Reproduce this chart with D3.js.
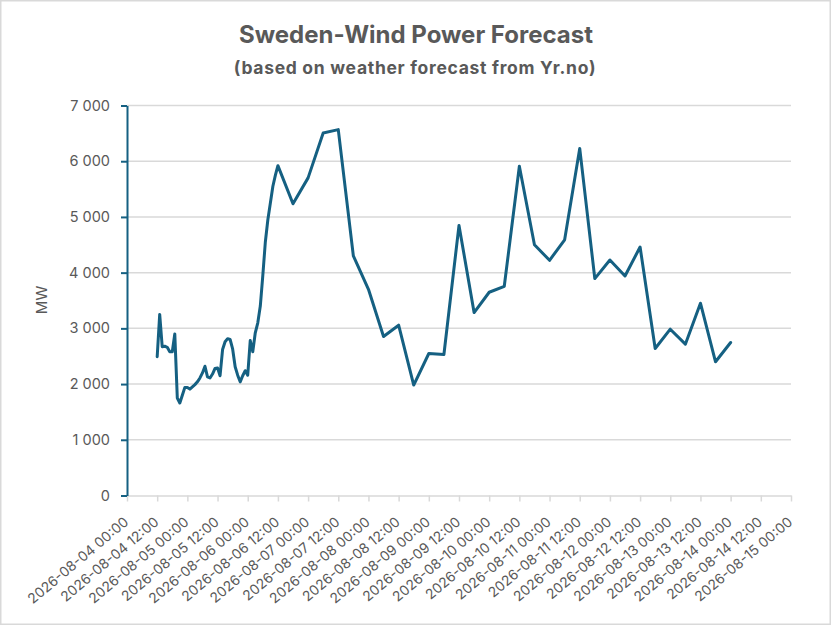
<!DOCTYPE html>
<html>
<head>
<meta charset="utf-8">
<script src="https://cdn.jsdelivr.net/npm/d3@7"></script>
<style>
  html, body { margin: 0; padding: 0; background: #fff; }
  svg { display: block; }
  text { font-family: Inter, "Liberation Sans", sans-serif; fill: #595959; }
</style>
</head>
<body>
<svg id="chart" width="832" height="626"></svg>
<script>
// ---- data ----
const chartTitle = "Sweden-Wind Power Forecast";
const chartSubtitle = "(based on weather forecast from Yr.no)";
const yAxisTitle = "MW";

const times = [
  "2026-08-04 12:00","2026-08-04 13:00","2026-08-04 14:00","2026-08-04 15:00","2026-08-04 16:00",
  "2026-08-04 17:00","2026-08-04 18:00","2026-08-04 19:00","2026-08-04 20:00","2026-08-04 21:00",
  "2026-08-04 22:00","2026-08-04 23:00","2026-08-05 00:00","2026-08-05 01:00","2026-08-05 02:00",
  "2026-08-05 03:00","2026-08-05 04:00","2026-08-05 05:00","2026-08-05 06:00","2026-08-05 07:00",
  "2026-08-05 08:00","2026-08-05 09:00","2026-08-05 10:00","2026-08-05 11:00","2026-08-05 12:00",
  "2026-08-05 13:00","2026-08-05 14:00","2026-08-05 15:00","2026-08-05 16:00","2026-08-05 17:00",
  "2026-08-05 18:00","2026-08-05 19:00","2026-08-05 20:00","2026-08-05 21:00","2026-08-05 22:00",
  "2026-08-05 23:00","2026-08-06 00:00","2026-08-06 01:00","2026-08-06 02:00","2026-08-06 03:00",
  "2026-08-06 04:00","2026-08-06 05:00","2026-08-06 06:00","2026-08-06 07:00","2026-08-06 08:00",
  "2026-08-06 09:00","2026-08-06 10:00","2026-08-06 11:00","2026-08-06 12:00",
  "2026-08-06 18:00","2026-08-07 00:00","2026-08-07 06:00","2026-08-07 12:00","2026-08-07 18:00",
  "2026-08-08 00:00","2026-08-08 06:00","2026-08-08 12:00","2026-08-08 18:00","2026-08-09 00:00",
  "2026-08-09 06:00","2026-08-09 12:00","2026-08-09 18:00","2026-08-10 00:00","2026-08-10 06:00",
  "2026-08-10 12:00","2026-08-10 18:00","2026-08-11 00:00","2026-08-11 06:00","2026-08-11 12:00",
  "2026-08-11 18:00","2026-08-12 00:00","2026-08-12 06:00","2026-08-12 12:00","2026-08-12 18:00",
  "2026-08-13 00:00","2026-08-13 06:00","2026-08-13 12:00","2026-08-13 18:00","2026-08-14 00:00"
];

const windMW = [
  2490,3250,2670,2680,2660,
  2580,2580,2900,1750,1660,
  1800,1940,1940,1910,1950,
  1990,2040,2110,2200,2320,
  2130,2110,2180,2280,2290,
  2150,2620,2760,2815,2800,
  2630,2310,2160,2040,2150,
  2240,2160,2780,2580,2920,
  3100,3400,3950,4550,4950,
  5250,5550,5750,5920,
  5236,5701,6507,6567,4299,
  3701,2854,3057,1982,2549,
  2531,4848,3284,3648,3755,
  5910,4501,4221,4590,6230,
  3893,4227,3940,4460,2639,
  2985,2716,3451,2400,2746
];

const xTickLabels = [
  "2026-08-04 00:00","2026-08-04 12:00","2026-08-05 00:00","2026-08-05 12:00",
  "2026-08-06 00:00","2026-08-06 12:00","2026-08-07 00:00","2026-08-07 12:00",
  "2026-08-08 00:00","2026-08-08 12:00","2026-08-09 00:00","2026-08-09 12:00",
  "2026-08-10 00:00","2026-08-10 12:00","2026-08-11 00:00","2026-08-11 12:00",
  "2026-08-12 00:00","2026-08-12 12:00","2026-08-13 00:00","2026-08-13 12:00",
  "2026-08-14 00:00","2026-08-14 12:00","2026-08-15 00:00"
];
const yTickValues = [0,1000,2000,3000,4000,5000,6000,7000];

// ---- drawing ----
const parse = d3.utcParse("%Y-%m-%d %H:%M");
const fmt = d3.utcFormat("%Y-%m-%d %H:%M");
const data = times.map((t, i) => ({ t: parse(t), v: windMW[i] }));
const xTicks = xTickLabels.map(parse);

const svg = d3.select("#chart");
const W = 832, H = 626;
const plot = { left: 127, right: 791, top: 105.5, bottom: 495.5 };

// chart border
svg.append("rect")
  .attr("x", 0.75).attr("y", 0.75).attr("width", W - 2.5).attr("height", H - 2.5)
  .attr("fill", "#fff").attr("stroke", "#d9d9d9").attr("stroke-width", 1.5);

const x = d3.scaleUtc().domain([xTicks[0], xTicks[xTicks.length - 1]]).range([plot.left, plot.right]);
const y = d3.scaleLinear().domain([0, 7000]).range([plot.bottom, plot.top]);

// gridlines
svg.append("g")
  .selectAll("line")
  .data(yTickValues.filter(v => v > 0))
  .join("line")
  .attr("x1", plot.left).attr("x2", plot.right)
  .attr("y1", d => y(d)).attr("y2", d => y(d))
  .attr("stroke", "#d9d9d9").attr("stroke-width", 1.5);

// x axis
const xAxis = svg.append("g")
  .attr("transform", `translate(0,${plot.bottom})`)
  .call(d3.axisBottom(x).tickValues(xTicks).tickSize(6).tickSizeOuter(0).tickFormat(fmt));
xAxis.select(".domain").attr("stroke", "#d9d9d9").attr("stroke-width", 1.5);
xAxis.selectAll(".tick line").attr("stroke", "#d9d9d9").attr("stroke-width", 1.5);
xAxis.selectAll(".tick text")
  .attr("fill", "#595959")
  .style("font-size", "14px")
  .attr("text-anchor", "end")
  .attr("x", 0).attr("y", 0).attr("dy", null)
  .attr("transform", "translate(2,28) rotate(-40)");

// y axis
const yAxis = svg.append("g")
  .attr("transform", `translate(${plot.left},0)`)
  .call(d3.axisLeft(y).tickValues(yTickValues).tickSize(6).tickSizeOuter(0)
    .tickFormat(d => d3.format(",")(d).replace(/,/g, " ")));
yAxis.select(".domain").attr("stroke", "#156082").attr("stroke-width", 2);
yAxis.selectAll(".tick line").attr("stroke", "#156082").attr("stroke-width", 2);
yAxis.selectAll(".tick text")
  .attr("fill", "#595959")
  .style("font-size", "14.5px")
  .attr("x", -17);

// y axis title
svg.append("text")
  .attr("transform", `translate(47,300) rotate(-90)`)
  .attr("text-anchor", "middle")
  .style("font-size", "15px")
  .text(yAxisTitle);

// line
svg.append("path")
  .datum(data)
  .attr("fill", "none")
  .attr("stroke", "#156082")
  .attr("stroke-width", 3)
  .attr("stroke-linejoin", "round")
  .attr("stroke-linecap", "round")
  .attr("d", d3.line().x(d => x(d.t)).y(d => y(d.v)));

// titles
svg.append("text")
  .attr("x", 416).attr("y", 43)
  .attr("text-anchor", "middle")
  .style("font-size", "24px").style("font-weight", "700")
  .text(chartTitle);
svg.append("text")
  .attr("x", 415).attr("y", 74)
  .attr("text-anchor", "middle")
  .style("font-size", "17.5px").style("font-weight", "700")
  .style("letter-spacing", "0.7px")
  .text(chartSubtitle);
</script>
</body>
</html>
